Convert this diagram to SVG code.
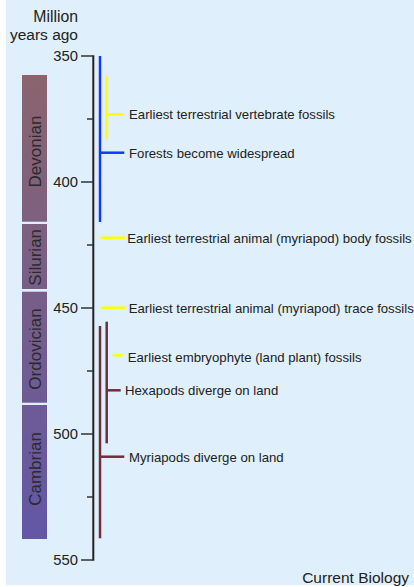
<svg xmlns="http://www.w3.org/2000/svg" width="414" height="587" viewBox="0 0 414 587">
<style>
text{font-family:"Liberation Sans",Arial,sans-serif;fill:#222}
.ax{font-size:14.8px;text-anchor:end}
.per{font-size:17px;text-anchor:middle;fill:#2a2a2a}
.ev{font-size:13.2px}
.tick{stroke:#333;stroke-width:1.5}
.blue{stroke:#1437ff;stroke-width:2.5;fill:none}
.yel{stroke:#ffff00;stroke-width:2.5;fill:none}
.mar{stroke:#6e2f3c;stroke-width:2.5;fill:none}
</style>
<defs>
<linearGradient id="pg" gradientUnits="userSpaceOnUse" x1="0" y1="75" x2="0" y2="539">
<stop offset="0" stop-color="#8b646e"/>
<stop offset="0.5" stop-color="#765e8a"/>
<stop offset="1" stop-color="#6357a6"/>
</linearGradient>
</defs>
<rect x="6" y="0" width="408" height="585" fill="#dfeffb"/>
<g id="title">
<text class="ax" x="78" y="22" style="font-size:15.8px">Million</text>
<text class="ax" x="78" y="40" style="font-size:15.5px">years ago</text>
</g>
<g id="periods">
<g id="devonian"><rect x="22" y="75" width="25" height="146.7" fill="url(#pg)"/><text class="per" transform="translate(40.5,151.5) rotate(-90)">Devonian</text></g>
<g id="silurian"><rect x="22" y="224" width="25" height="65" fill="url(#pg)"/><text class="per" transform="translate(40.5,257.3) rotate(-90)">Silurian</text></g>
<g id="ordovician"><rect x="22" y="291.7" width="25" height="111" fill="url(#pg)"/><text class="per" transform="translate(40.5,349) rotate(-90)">Ordovician</text></g>
<g id="cambrian"><rect x="22" y="405" width="25" height="134" fill="url(#pg)"/><text class="per" transform="translate(40.5,469) rotate(-90)">Cambrian</text></g>
</g>
<g id="axis">
<line x1="93.3" y1="55.3" x2="93.3" y2="560.7" stroke="#222" stroke-width="2"/>
<line class="tick" x1="81" y1="56" x2="93" y2="56"/>
<line class="tick" x1="87" y1="119" x2="93" y2="119"/>
<line class="tick" x1="81" y1="182" x2="93" y2="182"/>
<line class="tick" x1="87" y1="245" x2="93" y2="245"/>
<line class="tick" x1="81" y1="308" x2="93" y2="308"/>
<line class="tick" x1="87" y1="371" x2="93" y2="371"/>
<line class="tick" x1="81" y1="434" x2="93" y2="434"/>
<line class="tick" x1="87" y1="497" x2="93" y2="497"/>
<line class="tick" x1="81" y1="560" x2="93" y2="560"/>
<text class="ax" x="78" y="61">350</text>
<text class="ax" x="78" y="187">400</text>
<text class="ax" x="78" y="313">450</text>
<text class="ax" x="78" y="439">500</text>
<text class="ax" x="78" y="565">550</text>
</g>
<g id="connectors">
<line class="blue" x1="100" y1="56" x2="100" y2="222"/>
<line class="blue" x1="100" y1="152.7" x2="124.3" y2="152.7"/>
<line class="yel" x1="106.7" y1="75.7" x2="106.7" y2="139.3"/>
<line class="yel" x1="106.7" y1="114.3" x2="124.3" y2="114.3"/>
<line class="yel" x1="100.7" y1="237.7" x2="125" y2="237.7"/>
<line class="yel" x1="100.7" y1="307.7" x2="125" y2="307.7"/>
<line class="yel" x1="112.7" y1="355.3" x2="122.7" y2="355.3"/>
<line class="mar" x1="100" y1="326" x2="100" y2="538.3"/>
<line class="mar" x1="100" y1="456.7" x2="124.3" y2="456.7"/>
<line class="mar" x1="106.7" y1="321.7" x2="106.7" y2="443.3"/>
<line class="mar" x1="106.7" y1="390.3" x2="120.7" y2="390.3"/>
</g>
<g id="ev-vertebrate"><text class="ev" x="129" y="118.7">Earliest terrestrial vertebrate fossils</text></g>
<g id="ev-forests"><text class="ev" x="129" y="158">Forests become widespread</text></g>
<g id="ev-body"><text class="ev" x="127.3" y="243">Earliest terrestrial animal (myriapod) body fossils</text></g>
<g id="ev-trace"><text class="ev" x="128.7" y="313">Earliest terrestrial animal (myriapod) trace fossils</text></g>
<g id="ev-embryophyte"><text class="ev" x="127.7" y="362">Earliest embryophyte (land plant) fossils</text></g>
<g id="ev-hexapods"><text class="ev" x="125" y="395">Hexapods diverge on land</text></g>
<g id="ev-myriapods"><text class="ev" x="129" y="461.5">Myriapods diverge on land</text></g>
<g id="credit"><text x="409" y="583" style="font-size:15.5px;text-anchor:end">Current Biology</text></g>
</svg>
